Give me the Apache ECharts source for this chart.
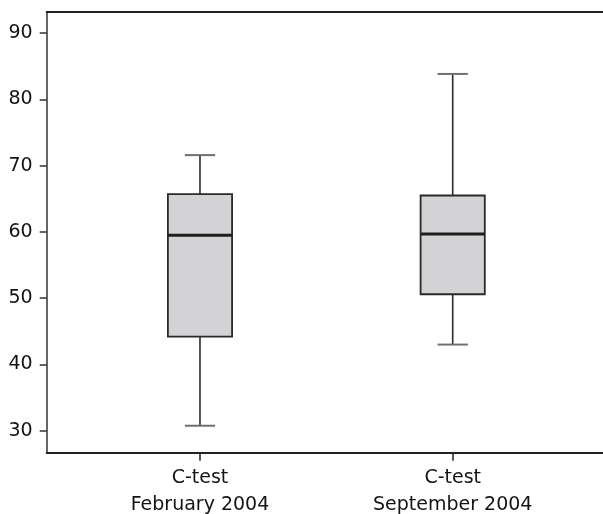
<!DOCTYPE html>
<html>
<head>
<meta charset="utf-8">
<script src="https://cdn.jsdelivr.net/npm/echarts@6/dist/echarts.min.js"></script>
<style>
  html, body { margin: 0; padding: 0; background: #fff; }
  #chart { width: 603px; height: 514px; }
</style>
</head>
<body>
<div id="chart"></div>
<script>
// C-test score distributions for the two testing sessions
const categories = ['C-test\nFebruary 2004', 'C-test\nSeptember 2004'];
const positions = [1, 2];
const lowerWhisker = [30.75, 43.0];
const lowerQuartile = [44.2, 50.6];
const medians = [59.5, 59.7];
const upperQuartile = [65.7, 65.5];
const upperWhisker = [71.6, 83.85];
const yTicks = [30, 40, 50, 60, 70, 80, 90];

const boxData = positions.map((p, i) => [
  p, lowerWhisker[i], lowerQuartile[i], medians[i], upperQuartile[i], upperWhisker[i]
]);

const BOX_HALF = 0.127;  // half box width in x-axis units
const CAP_HALF = 0.06;   // half whisker-cap width in x-axis units

function renderBox(params, api) {
  const x = api.value(0);
  const lo = api.value(1), q1 = api.value(2), med = api.value(3), q3 = api.value(4), hi = api.value(5);
  const tl = api.coord([x - BOX_HALF, q3]);
  const br = api.coord([x + BOX_HALF, q1]);
  const cHi = api.coord([x, hi]);
  const cLo = api.coord([x, lo]);
  const capL = api.coord([x - CAP_HALF, hi])[0];
  const capR = api.coord([x + CAP_HALF, hi])[0];
  const mL = api.coord([x - BOX_HALF, med]);
  const mR = api.coord([x + BOX_HALF, med]);
  const lineStyle = { stroke: '#2a2a2a', lineWidth: 1.6 };
  const capStyle = { stroke: '#707070', lineWidth: 2 };
  return {
    type: 'group',
    children: [
      { type: 'line', shape: { x1: cHi[0], y1: cHi[1], x2: cHi[0], y2: tl[1] }, style: lineStyle },
      { type: 'line', shape: { x1: cLo[0], y1: br[1], x2: cLo[0], y2: cLo[1] }, style: lineStyle },
      { type: 'line', shape: { x1: capL, y1: cHi[1], x2: capR, y2: cHi[1] }, style: capStyle },
      { type: 'line', shape: { x1: capL, y1: cLo[1], x2: capR, y2: cLo[1] }, style: capStyle },
      { type: 'rect', shape: { x: tl[0], y: tl[1], width: br[0] - tl[0], height: br[1] - tl[1] },
        style: { fill: '#d3d3d5', stroke: '#2a2a2a', lineWidth: 1.8 } },
      { type: 'line', shape: { x1: mL[0], y1: mL[1], x2: mR[0], y2: mR[1] },
        style: { stroke: '#1e1e1e', lineWidth: 3 } }
    ]
  };
}

const font = '"DejaVu Sans", "Liberation Sans", Arial, sans-serif';
const chart = echarts.init(document.getElementById('chart'));
chart.setOption({
  animation: false,
  backgroundColor: '#ffffff',
  grid: { left: 46.7, right: 0, top: 12, bottom: 61.3, containLabel: false, outerBoundsMode: 'none' },
  xAxis: [
    {
      type: 'value', position: 'bottom', min: 0.3934, max: 2.5948,
      axisLine: { show: true, onZero: false, lineStyle: { color: '#222', width: 2 } },
      axisTick: { show: true, customValues: positions, length: 8, lineStyle: { color: '#222', width: 1.5 } },
      axisLabel: {
        show: true, customValues: positions, margin: 12,
        formatter: v => categories[positions.indexOf(v)] || '',
        fontSize: 19, lineHeight: 27, color: '#141414', fontFamily: font
      },
      splitLine: { show: false }
    },
    {
      type: 'value', position: 'top', min: 0.3934, max: 2.5948,
      axisLine: { show: true, onZero: false, lineStyle: { color: '#222', width: 2 } },
      axisTick: { show: false }, axisLabel: { show: false }, splitLine: { show: false }
    }
  ],
  yAxis: {
    type: 'value', min: 26.68, max: 93.2,
    axisLine: { show: true, onZero: false, lineStyle: { color: '#666', width: 2 } },
    axisTick: { show: true, customValues: yTicks, length: 7, lineStyle: { color: '#333', width: 1.5 } },
    axisLabel: {
      show: true, customValues: yTicks, margin: 14,
      fontSize: 19, color: '#141414', fontFamily: font
    },
    splitLine: { show: false }
  },
  series: [{
    type: 'custom',
    xAxisIndex: 0,
    renderItem: renderBox,
    encode: { x: 0, y: [1, 2, 3, 4, 5] },
    data: boxData
  }]
});
</script>
</body>
</html>
